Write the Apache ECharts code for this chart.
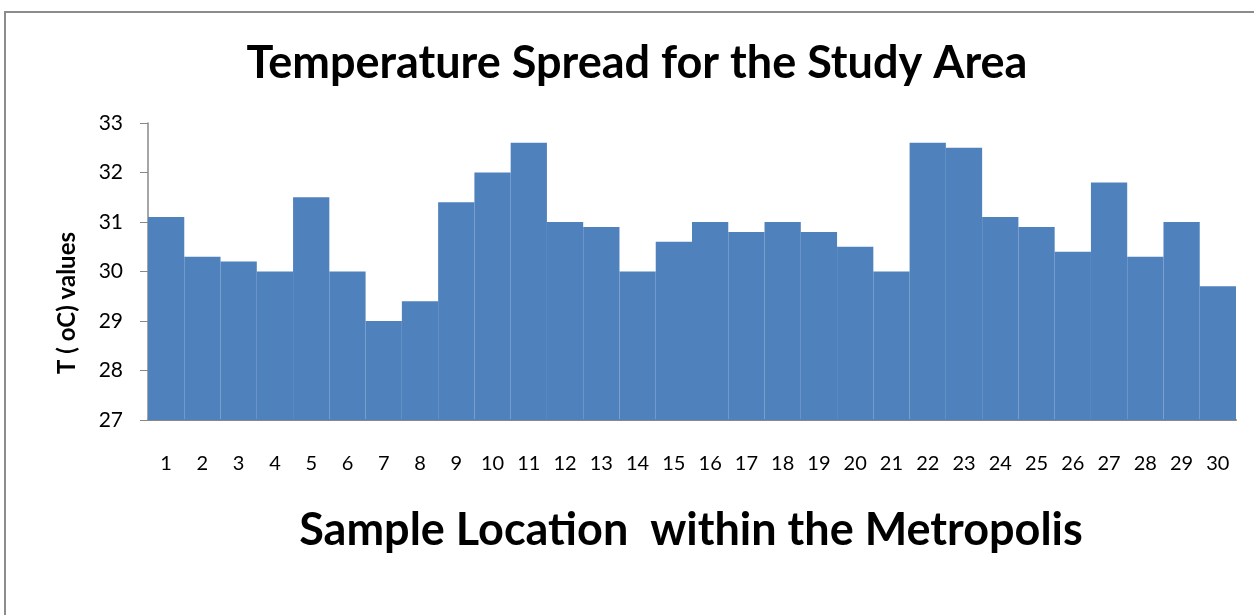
<!DOCTYPE html>
<html><head><meta charset="utf-8">
<script src="https://cdn.jsdelivr.net/npm/echarts@6/dist/echarts.min.js"></script>
<style>html,body{margin:0;padding:0;background:#fff}#c{width:1254px;height:615px}</style>
</head><body><div id="c"></div>
<script>
const categories = ['1','2','3','4','5','6','7','8','9','10','11','12','13','14','15','16','17','18','19','20','21','22','23','24','25','26','27','28','29','30'];
const temperatures = [31.1,30.3,30.2,30.0,31.5,30.0,29.0,29.4,31.4,32.0,32.6,31.0,30.9,30.0,30.6,31.0,30.8,31.0,30.8,30.5,30.0,32.6,32.5,31.1,30.9,30.4,31.8,30.3,31.0,29.7];
const yMin = 27, yMax = 33, yStep = 1;
const chartTitle = 'Temperature Spread for the Study Area';
const xTitle = 'Sample Location  within the Metropolis';
const yTitle = 'T ( oC) values';

const chart = echarts.init(document.getElementById('c'), null, {renderer:'canvas'});
const F = 'Lato, "Open Sans", sans-serif';
chart.setOption({
  animation:false,
  backgroundColor:'#fff',
  grid:{left:148, right:18, top:123, bottom:195, containLabel:false},
  graphic:[
    {type:'rect', shape:{x:5, y:12, width:1400, height:800}, style:{fill:'none', stroke:'#8c8c8c', lineWidth:2}},
    {type:'text', x:637, y:63, style:{text:chartTitle, font:'bold 45px '+F, fill:'#000', textAlign:'center', textVerticalAlign:'middle'}},
    {type:'text', x:691, y:530, style:{text:xTitle, font:'bold 45px '+F, fill:'#000', textAlign:'center', textVerticalAlign:'middle'}},
    {type:'text', x:67, y:303, rotation:Math.PI/2, style:{text:yTitle, font:'bold 24px '+F, fill:'#000', textAlign:'center', textVerticalAlign:'middle'}}
  ],
  xAxis:{type:'category', data:categories,
    axisLine:{lineStyle:{color:'#888', width:2}},
    axisTick:{show:false},
    axisLabel:{color:'#000', fontSize:20, fontFamily:F, margin:34, interval:0}
  },
  yAxis:{type:'value', min:yMin, max:yMax, interval:yStep,
    splitLine:{show:false},
    axisLine:{show:true, lineStyle:{color:'#888', width:1.5}},
    axisTick:{show:true, length:8, lineStyle:{color:'#888'}},
    axisLabel:{color:'#000', fontSize:21, fontFamily:F, margin:25}
  },
  series:[{type:'bar', data:temperatures, barCategoryGap:'0%', itemStyle:{color:'#4F81BD'}}]
});
</script></body></html>
